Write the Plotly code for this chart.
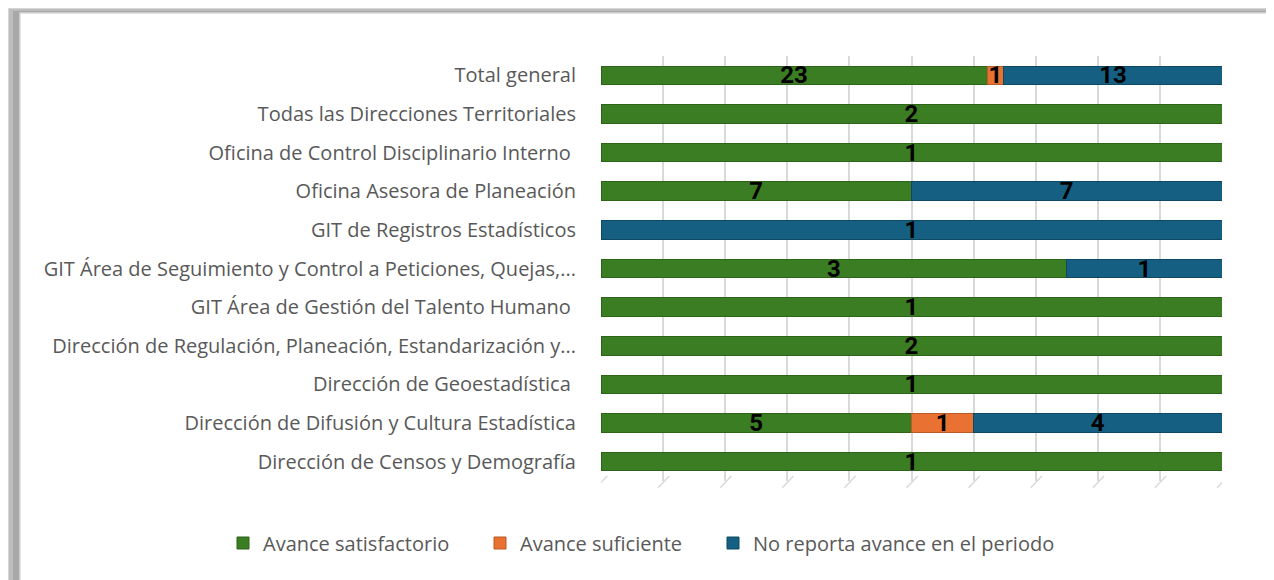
import plotly.graph_objects as go

categories = [
    "Total general",
    "Todas las Direcciones Territoriales",
    "Oficina de Control Disciplinario Interno ",
    "Oficina Asesora de Planeación",
    "GIT de Registros Estadísticos",
    "GIT Área de Seguimiento y Control a Peticiones, Quejas,...",
    "GIT Área de Gestión del Talento Humano ",
    "Dirección de Regulación, Planeación, Estandarización y...",
    "Dirección de Geoestadística ",
    "Dirección de Difusión y Cultura Estadística",
    "Dirección de Censos y Demografía",
]
satisfactorio = [23, 2, 1, 7, None, 3, 1, 2, 1, 5, 1]
suficiente = [1, None, None, None, None, None, None, None, None, 1, None]
no_reporta = [13, None, None, 7, 1, 1, None, None, None, 4, None]

series = [
    ("Avance satisfactorio", satisfactorio, "#3B7D23", "#2E631B", "legend", 223),
    ("Avance suficiente", suficiente, "#E97132", "#B95A27", "legend2", 480),
    ("No reporta avance en el periodo", no_reporta, "#156082", "#0F4862", "legend3", 713),
]
ticks = list(range(0, 101, 10))


# page is offset by the 8px body margin; page px -> paper coords
def px_x(p):
    return (p - 601) / 621


def px_y(p):
    return (481 - p) / 425


fig = go.Figure()
legends = {}
for name, vals, col, edge, leg, lx in series:
    fig.add_trace(go.Bar(
        y=categories, x=vals, name=name, orientation="h", legend=leg,
        marker=dict(color=col, line=dict(color=edge, width=1)),
        text=[("" if v is None else str(v)) for v in vals],
        textposition="inside", insidetextanchor="middle",
        textangle=0, constraintext="none",
        textfont=dict(family="Liberation Sans Narrow, Roboto", size=24, color="black", weight="bold"),
    ))
    legends[leg] = dict(orientation="h", x=px_x(lx), xanchor="left", y=px_y(543), yanchor="middle",
                        font=dict(size=20, color="#595959"), itemwidth=30,
                        bgcolor="rgba(0,0,0,0)")

shapes = []
for (x0, y0, c) in [(2, 2, "#ececec"), (5, 5, "#d6d6d6"), (9, 9, "#bdbdbd"), (13, 11, "#a8a8a8")]:
    shapes.append(dict(type="rect", xref="paper", yref="paper", layer="below",
                       x0=px_x(x0), x1=px_x(1290), y0=px_y(y0), y1=px_y(620),
                       fillcolor=c, line=dict(width=0)))
shapes.append(dict(type="rect", xref="paper", yref="paper", layer="below",
                   x0=px_x(20), x1=px_x(1267), y0=px_y(13), y1=px_y(620),
                   fillcolor="white", line=dict(color="#d9d9d9", width=1.5)))
# floor perspective ticks
for v in ticks:
    shapes.append(dict(type="line", xref="x", yref="paper", layer="below",
                       x0=v - 0.8, x1=v + 1.0, y0=-0.016, y1=0.012,
                       line=dict(color="#d9d9d9", width=1.5)))

W, H = 1266, 572
fig.update_layout(
    barmode="stack", barnorm="percent", bargap=0.52,
    width=W, height=H,
    margin=dict(l=601 - 8, r=W - (1222 - 8), t=56 - 8, b=H - (481 - 8), autoexpand=False),
    paper_bgcolor="white", plot_bgcolor="rgba(0,0,0,0)",
    font=dict(family="Open Sans, Roboto, sans-serif", color="#595959", size=20),
    shapes=shapes,
    showlegend=True,
    **legends,
)
fig.update_xaxes(range=[0, 100], tickvals=ticks, showticklabels=False,
                 showgrid=True, gridcolor="#d9d9d9", gridwidth=1.5,
                 zeroline=False, showline=False, fixedrange=True)
fig.update_yaxes(autorange="reversed", showgrid=False, ticks="",
                 ticklabelstandoff=24, showline=False, fixedrange=True,
                 tickfont=dict(size=20, color="#595959"))

fig.write_html("out.html")
